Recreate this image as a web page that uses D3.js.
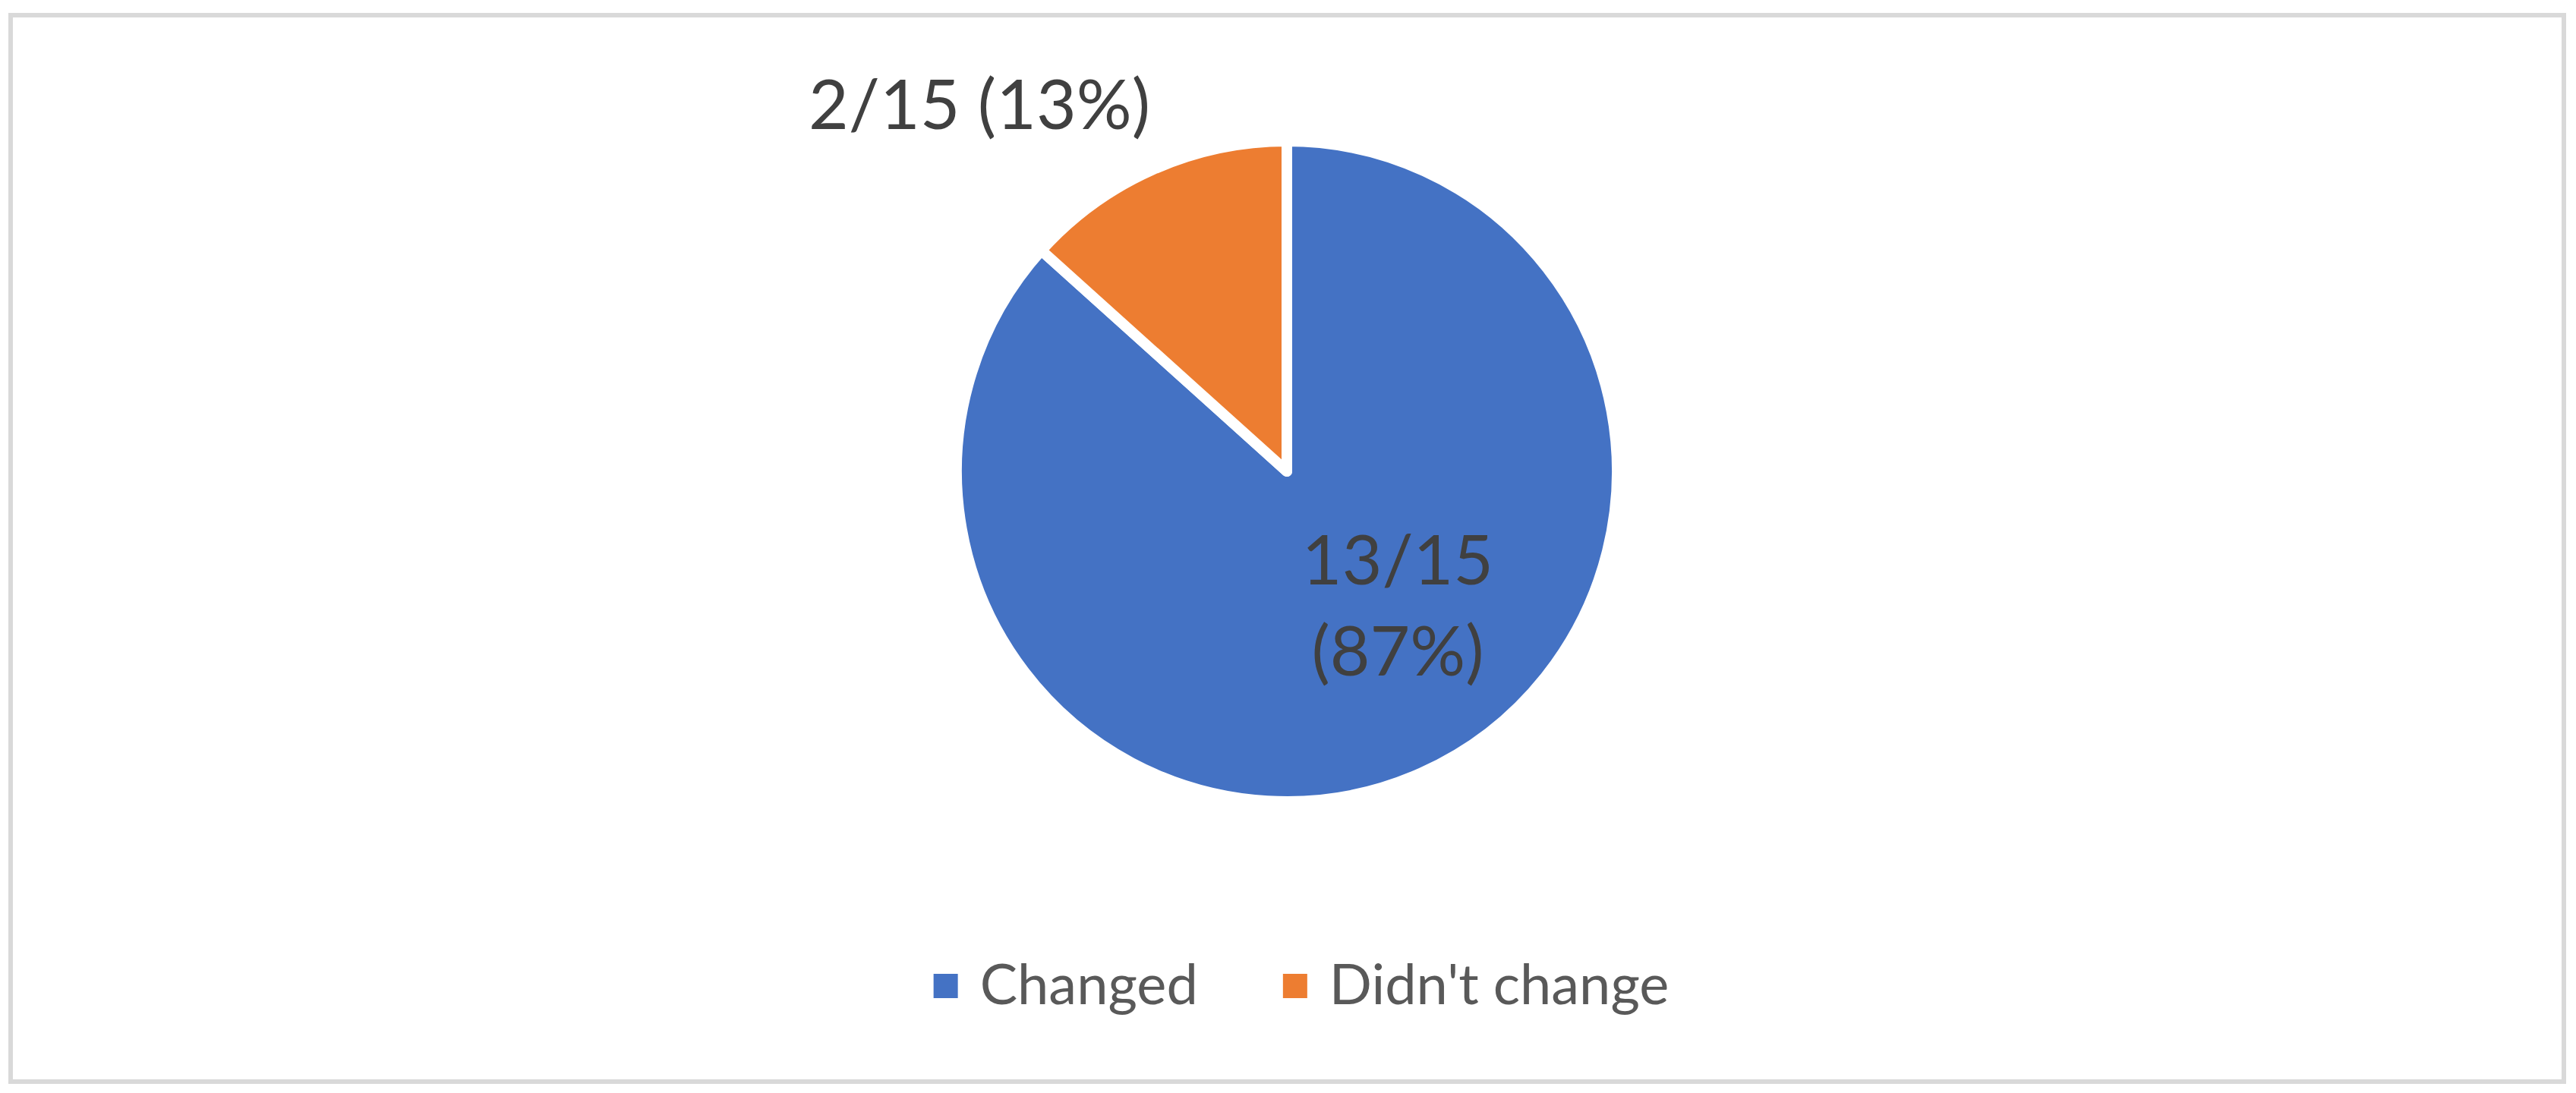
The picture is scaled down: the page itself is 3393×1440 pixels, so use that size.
<!DOCTYPE html>
<html>
<head>
<meta charset="utf-8">
<script src="https://cdn.jsdelivr.net/npm/d3@7"></script>
<style>
  body { margin: 0; background: #fff; }
  svg text { font-family: Lato, Calibri, "Open Sans", sans-serif; }
</style>
</head>
<body>
<div id="chart"></div>
<script>
const categories = ['Changed', "Didn't change"];
const values = [13, 2];
const colors = ['#4472C4', '#ED7D31'];

const width = 3393;
const height = 1440;
const cx = 1695, cy = 621, radius = 435;

const total = d3.sum(values);
const data = categories.map((c, i) => ({ name: c, value: values[i], color: colors[i] }));

const svg = d3.select('#chart')
  .append('svg')
  .attr('width', width)
  .attr('height', height);

// chart frame
svg.append('rect')
  .attr('x', 14).attr('y', 20)
  .attr('width', 3363).attr('height', 1405)
  .attr('fill', '#fff')
  .attr('stroke', '#D9D9D9')
  .attr('stroke-width', 6);

const pie = d3.pie().sort(null).value(d => d.value);
const arc = d3.arc().innerRadius(0).outerRadius(radius);
const arcs = pie(data);

const g = svg.append('g').attr('transform', `translate(${cx},${cy})`);

g.selectAll('path')
  .data(arcs)
  .join('path')
    .attr('d', arc)
    .attr('fill', d => d.data.color)
    .attr('stroke', '#fff')
    .attr('stroke-width', 14)
    .attr('stroke-linejoin', 'round');

// data labels (offsets from pie centre, like Excel's best fit)
const labelPos = [
  { dx: 146, lines: [770 - cy, 890 - cy] },
  { dx: -405, lines: [170 - cy] }
];

g.selectAll('text.lbl')
  .data(arcs)
  .join('text')
    .attr('class', 'lbl')
    .attr('text-anchor', 'middle')
    .attr('fill', '#404040')
    .attr('font-size', 91)
    .each(function (d, i) {
      const v = d.data.value;
      const frac = `${v}/${total}`;
      const pct = `(${Math.round(v / total * 100)}%)`;
      const p = labelPos[i];
      const t = d3.select(this);
      if (p.lines.length === 2) {
        t.append('tspan').attr('x', p.dx).attr('y', p.lines[0]).text(frac);
        t.append('tspan').attr('x', p.dx).attr('y', p.lines[1]).text(pct);
      } else {
        t.append('tspan').attr('x', p.dx).attr('y', p.lines[0]).text(`${frac} ${pct}`);
      }
    });

// legend
const legend = svg.append('g');
const sw = 32, gapText = 29, gapItem = 112;
let xPos = 0;
data.forEach(d => {
  const item = legend.append('g').attr('transform', `translate(${xPos},0)`);
  item.append('rect')
    .attr('x', 0).attr('y', -40)
    .attr('width', sw).attr('height', sw)
    .attr('fill', d.color);
  const txt = item.append('text')
    .attr('x', sw + gapText).attr('y', 0)
    .attr('fill', '#595959')
    .attr('font-size', 74)
    .text(d.name);
  xPos += sw + gapText + txt.node().getComputedTextLength() + gapItem;
});
const legendWidth = xPos - gapItem;
legend.attr('transform', `translate(${1714 - legendWidth / 2},1323)`);
</script>
</body>
</html>
